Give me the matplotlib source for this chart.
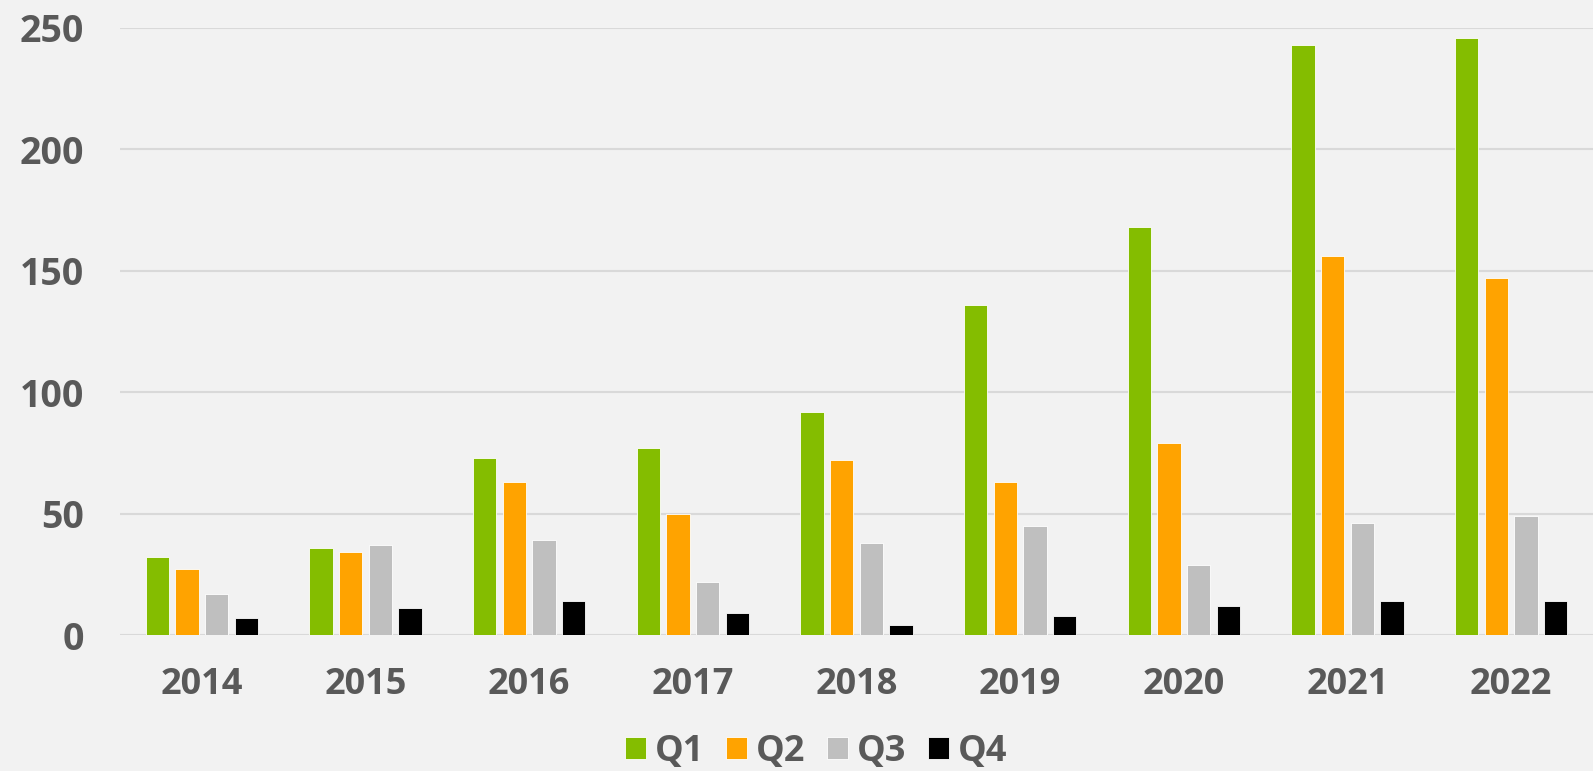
import matplotlib
matplotlib.use("Agg")
import matplotlib.pyplot as plt
import numpy as np

years = ["2014", "2015", "2016", "2017", "2018", "2019", "2020", "2021", "2022"]
q1 = [32, 36, 73, 77, 92, 136, 168, 243, 246]
q2 = [27, 34, 63, 50, 72, 63, 79, 156, 147]
q3 = [17, 37, 39, 22, 38, 45, 29, 46, 49]
q4 = [7, 11, 14, 9, 4, 8, 12, 14, 14]
series_names = ["Q1", "Q2", "Q3", "Q4"]
colors = ["#84BD00", "#FFA300", "#BFBFBF", "#000000"]

plt.rcParams['font.family'] = ['Open Sans', 'DejaVu Sans']
txt = "#595959"
bg = "#F2F2F2"

fig = plt.figure(figsize=(15.93, 7.71), dpi=100, facecolor=bg)
ax = fig.add_axes([120/1593, 136/771, 1 - 120/1593, 607/771])
ax.set_facecolor(bg)

x = np.arange(len(years))
spacing = 0.181
width = 0.143
for i, (vals, name, c) in enumerate(zip([q1, q2, q3, q4], series_names, colors)):
    ax.bar(x + (i - 1.5) * spacing, vals, width, color=c, label=name,
           edgecolor="#FFFFFF", linewidth=0.6, zorder=3)

ax.set_xlim(-0.5, len(years) - 0.5)
ax.set_ylim(0, 250)
ax.set_yticks([0, 50, 100, 150, 200, 250])
ax.set_xticks(x)
ax.set_xticklabels(years)
ax.grid(axis='y', color="#D9D9D9", linewidth=1.5, zorder=0)
ax.set_axisbelow(True)
for s in ax.spines.values():
    s.set_visible(False)
ax.tick_params(axis='both', length=0, colors=txt)
ax.tick_params(axis='y', pad=26, labelsize=27)
ax.tick_params(axis='x', pad=23, labelsize=26)
for lab in ax.get_xticklabels() + ax.get_yticklabels():
    lab.set_fontweight('bold')
    lab.set_color(txt)

handles, labels = ax.get_legend_handles_labels()
leg = fig.legend(handles, labels, loc='center', bbox_to_anchor=(816/1593, 1 - 752/771),
                 ncol=4, frameon=False, fontsize=26, handlelength=0.58, handleheight=0.58,
                 handletextpad=0.25, columnspacing=0.6, borderpad=0, borderaxespad=0)
for t in leg.get_texts():
    t.set_color(txt)
    t.set_fontweight('bold')

fig.savefig("out.png", dpi=100, facecolor=bg)
